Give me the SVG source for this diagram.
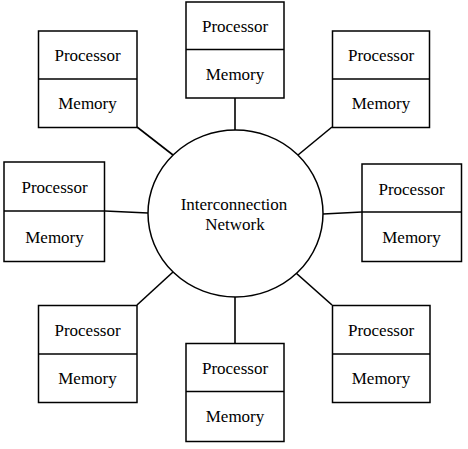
<svg xmlns="http://www.w3.org/2000/svg" width="468" height="449" viewBox="0 0 468 449" font-family="'Liberation Serif', 'Times New Roman', 'DejaVu Serif', serif">
<style>
rect{fill:#fff;stroke:#000;stroke-width:1.5}
.d{stroke:#000;stroke-width:1.5}
text{font-family:'Liberation Serif','Times New Roman',serif;font-size:17px;text-anchor:middle;fill:#000}
#connectors line{stroke:#000;stroke-width:1.6}
</style>
<g id="connectors">
<line x1="235" y1="98" x2="235" y2="130"/>
<line x1="137" y1="127" x2="173" y2="155"/>
<line x1="332" y1="127" x2="298" y2="155"/>
<line x1="105" y1="211" x2="148" y2="213"/>
<line x1="323" y1="214" x2="362" y2="212"/>
<line x1="173" y1="272" x2="137" y2="305"/>
<line x1="296" y1="273" x2="332" y2="305"/>
<line x1="235" y1="297" x2="235" y2="343"/>
</g>
<g id="network">
<ellipse cx="235.5" cy="213.5" rx="87.5" ry="83.5" fill="#fff" stroke="#000" stroke-width="1.5"/>
<text x="234" y="210">Interconnection</text>
<text x="235" y="230">Network</text>
</g>
<g id="node-top">
<rect x="186" y="2" width="98" height="96"/><line class="d" x1="186" y1="49.5" x2="284" y2="49.5"/>
<text x="235" y="32">Processor</text><text x="235" y="80">Memory</text>
</g>
<g id="node-top-left">
<rect x="38.5" y="31" width="98.5" height="96.5"/><line class="d" x1="38.5" y1="79" x2="137" y2="79"/>
<text x="87.5" y="61">Processor</text><text x="87.5" y="109">Memory</text>
</g>
<g id="node-top-right">
<rect x="332.5" y="31" width="97" height="96.5"/><line class="d" x1="332.5" y1="79" x2="429.5" y2="79"/>
<text x="381" y="61">Processor</text><text x="381" y="109">Memory</text>
</g>
<g id="node-left">
<rect x="4" y="162" width="100.5" height="99.5"/><line class="d" x1="4" y1="211" x2="104.5" y2="211"/>
<text x="54.5" y="193">Processor</text><text x="54.5" y="243">Memory</text>
</g>
<g id="node-right">
<rect x="362" y="164" width="99.5" height="97.5"/><line class="d" x1="362" y1="212" x2="461.5" y2="212"/>
<text x="411.5" y="195">Processor</text><text x="411.5" y="243">Memory</text>
</g>
<g id="node-bottom-left">
<rect x="38.5" y="305.5" width="98.5" height="97"/><line class="d" x1="38.5" y1="354" x2="137" y2="354"/>
<text x="87.5" y="336">Processor</text><text x="87.5" y="384">Memory</text>
</g>
<g id="node-bottom-right">
<rect x="332.5" y="305.5" width="97.5" height="97"/><line class="d" x1="332.5" y1="354" x2="430" y2="354"/>
<text x="381" y="336">Processor</text><text x="381" y="384">Memory</text>
</g>
<g id="node-bottom">
<rect x="186" y="343.5" width="98" height="98"/><line class="d" x1="186" y1="391.5" x2="284" y2="391.5"/>
<text x="235" y="374">Processor</text><text x="235" y="422">Memory</text>
</g>
</svg>
